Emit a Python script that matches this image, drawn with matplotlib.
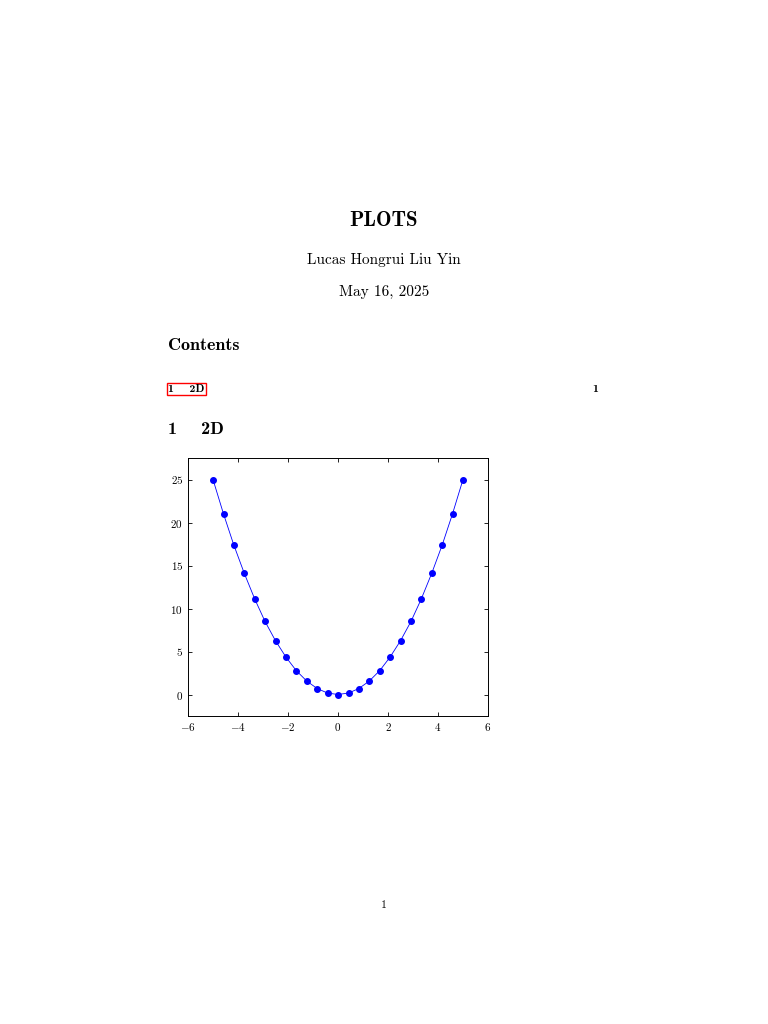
import matplotlib
matplotlib.use("Agg")
import matplotlib.pyplot as plt

plt.rcParams["font.family"] = "serif"
plt.rcParams["font.serif"] = ["cmr10", "DejaVu Serif"]
plt.rcParams["mathtext.fontset"] = "cm"
plt.rcParams["axes.formatter.use_mathtext"] = True

x_vals = [-5.0, -4.58, -4.17, -3.75, -3.33, -2.92, -2.5, -2.08, -1.67, -1.25, -0.83, -0.42, 0.0,
          0.42, 0.83, 1.25, 1.67, 2.08, 2.5, 2.92, 3.33, 3.75, 4.17, 4.58, 5.0]
y_vals = [25.0, 21.0, 17.4, 14.1, 11.1, 8.5, 6.25, 4.34, 2.78, 1.56, 0.69, 0.17, 0.0,
          0.17, 0.69, 1.56, 2.78, 4.34, 6.25, 8.5, 11.1, 14.1, 17.4, 21.0, 25.0]
x_ticks = [-6, -4, -2, 0, 2, 4, 6]
y_ticks = [0, 5, 10, 15, 20, 25]

fig = plt.figure(figsize=(7.68, 10.24), dpi=100)

def px(x, y):
    return x / 768, 1 - y / 1024

# page text
fig.text(*px(384, 220), "PLOTS", fontname="cmb10", fontsize=15, ha="center", va="center")
fig.text(*px(384, 260), "Lucas Hongrui Liu Yin", fontsize=11, ha="center", va="center")
fig.text(*px(384, 292), "May 16, 2025", fontsize=11, ha="center", va="center")
fig.text(*px(168, 345), "Contents", fontname="cmb10", fontsize=13, ha="left", va="center")
fig.text(*px(168, 389), "1    2D", fontname="cmb10", fontsize=8.5, ha="left", va="center",
         bbox=dict(boxstyle="square,pad=0.1", fc="none", ec="red", lw=1))
fig.text(*px(598, 389), "1", fontname="cmb10", fontsize=8.5, ha="right", va="center")
fig.text(*px(168, 430), "1    2D", fontname="cmb10", fontsize=13, ha="left", va="center")
fig.text(*px(384, 905), "1", fontsize=8.5, ha="center", va="center")

ax = fig.add_axes([188 / 768, 1 - 716 / 1024, 300 / 768, 258 / 1024])
ax.plot(x_vals, y_vals, color="blue", lw=0.6, marker="o", markersize=4)
ax.set_xlim(-6, 6)
ax.set_ylim(-2.5, 27.5)
ax.set_xticks(x_ticks)
ax.set_yticks(y_ticks)
ax.tick_params(direction="in", top=True, right=True, labelsize=8, length=3, width=0.6)
for s in ax.spines.values():
    s.set_linewidth(0.7)

fig.savefig("out.png", dpi=100)
